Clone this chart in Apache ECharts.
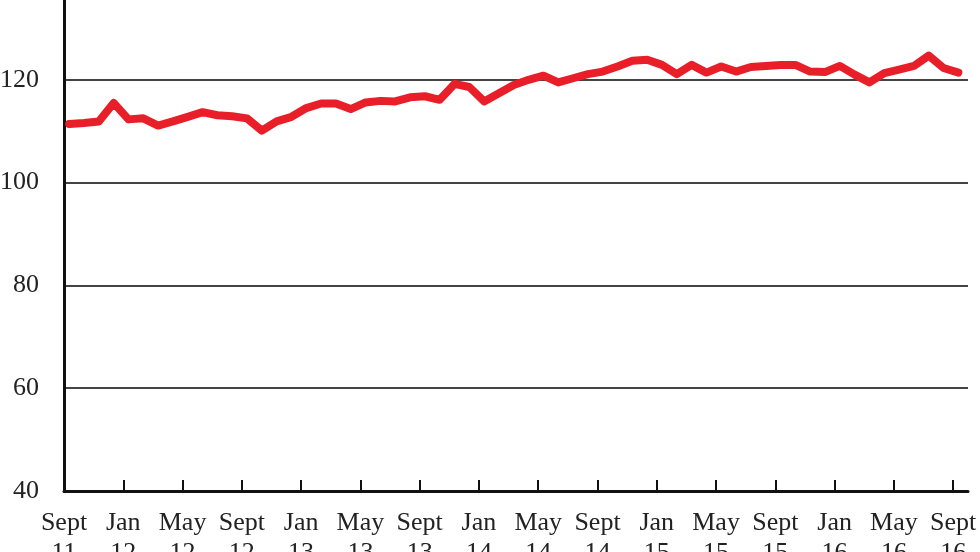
<!DOCTYPE html>
<html>
<head>
<meta charset="utf-8">
<script src="https://cdn.jsdelivr.net/npm/echarts@6/dist/echarts.min.js"></script>
<style>
  html, body { margin: 0; padding: 0; background: #fff; }
  #chart { width: 980px; height: 552px; }
</style>
</head>
<body>
<div id="chart"></div>
<script>
// months from Sept 2011 to Oct 2016 (axis runs one month past the last point)
const monthNames = ['Jan', 'Feb', 'Mar', 'Apr', 'May', 'June', 'July', 'Aug', 'Sept', 'Oct', 'Nov', 'Dec']
const months = []
for (let k = 0; k < 62; k++) {
  const m = (8 + k) % 12
  const yr = 11 + Math.floor((8 + k) / 12)
  months.push(monthNames[m] + '\n' + yr)
}

// monthly index values, Sept 11 .. Sept 16
const values = [
  111.4, 111.6, 111.9, 115.5, 112.3, 112.5, 111.1, 111.9, 112.8, 113.7,
  113.1, 112.9, 112.5, 110.1, 111.9, 112.8, 114.5, 115.4, 115.4, 114.3,
  115.6, 115.9, 115.8, 116.6, 116.8, 116.1, 119.2, 118.6, 115.8, 117.4,
  119.0, 120.0, 120.8, 119.5, 120.3, 121.1, 121.6, 122.6, 123.7, 123.9,
  122.9, 121.1, 122.9, 121.4, 122.6, 121.6, 122.5, 122.7, 122.9, 122.9,
  121.6, 121.5, 122.7, 121.0, 119.5, 121.3, 122.0, 122.7, 124.7, 122.3,
  121.4
]
// readings fall about a third of the way into each month
const dayOffset = 0.35

const yTicks = [40, 60, 80, 100, 120, 140]

const chart = echarts.init(document.getElementById('chart'))
const serif = '"Liberation Serif", "DejaVu Serif", serif'

const option = {
  animation: false,
  grid: { left: 64, right: 12, top: -23, bottom: 61, containLabel: false, outerBoundsMode: 'none' },
  xAxis: [
    {
      type: 'category',
      data: months,
      boundaryGap: false,
      axisLine: { lineStyle: { color: '#111', width: 3 } },
      axisTick: { inside: true, length: 11, interval: 3, lineStyle: { color: '#111', width: 2 } },
      axisLabel: {
        interval: 3,
        margin: 17,
        fontFamily: serif,
        fontSize: 26,
        lineHeight: 30,
        color: '#222'
      },
      splitLine: { show: false }
    },
    {
      type: 'value',
      min: 0,
      max: months.length - 1,
      show: false
    }
  ],
  yAxis: {
    type: 'value',
    min: yTicks[0],
    max: yTicks[yTicks.length - 1],
    interval: 20,
    axisLine: { show: true, lineStyle: { color: '#111', width: 3 } },
    axisTick: { show: false },
    axisLabel: { margin: 25, fontFamily: serif, fontSize: 26, color: '#222' },
    splitLine: { lineStyle: { color: '#444', width: 2 } }
  },
  series: [
    {
      type: 'line',
      xAxisIndex: 1,
      data: values.map((v, i) => [i + dayOffset, v]),
      showSymbol: false,
      lineStyle: { color: '#e81f29', width: 8, cap: 'round', join: 'round' },
      z: 3
    }
  ]
}
chart.setOption(option)
</script>
</body>
</html>
